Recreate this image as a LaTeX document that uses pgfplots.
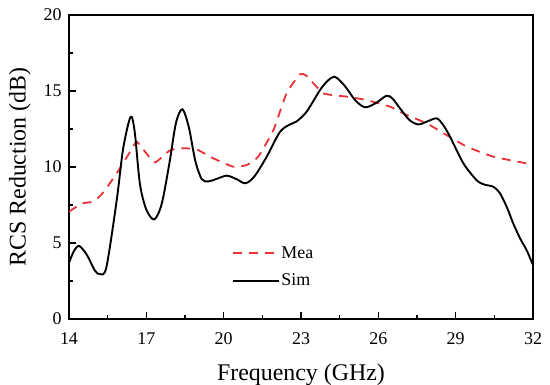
\documentclass[border=0pt]{standalone}
\usepackage{fontspec}
\setmainfont{Liberation Serif}
\usepackage{pgfplots}
\pgfplotsset{compat=1.18}
\definecolor{meared}{RGB}{232,50,56}
\begin{document}
\begin{tikzpicture}
\begin{axis}[
  scale only axis,
  width=464bp, height=304bp,
  at={(0,0)}, anchor=south west,
  xmin=14, xmax=32, ymin=0, ymax=20,
  xtick={14,17,20,23,26,29,32},
  ytick={0,5,10,15,20},
  minor x tick num=1, minor y tick num=1,
  xtick pos=bottom, ytick pos=left,
  tick align=inside,
  major tick length=7bp, minor tick length=4bp,
  every tick/.style={black, line width=1.2bp},
  axis line style={line width=1.8bp},
  /pgf/number format/assume math mode=true,
  tick label style={font=\rmfamily\fontsize{18}{20}\selectfont},
  xticklabel style={yshift=-10bp},
  yticklabel style={xshift=-4bp},
  label style={font=\rmfamily\fontsize{24}{26}\selectfont},
  xlabel={Frequency (GHz)},
  ylabel={RCS Reduction (dB)},
  xlabel style={yshift=-12bp},
  ylabel style={yshift=6bp},
  legend style={at={(0.35,0.245)}, anchor=north west, draw=none, fill=none,
    font=\rmfamily\fontsize{18}{20}\selectfont, inner sep=0pt, row sep=10bp,
    legend cell align=left},
  legend image code/.code={\draw[#1] (0bp,0bp) -- (46bp,0bp);},
]
\addplot[meared, line width=1.8bp, dash pattern=on 9bp off 7bp, smooth, tension=0.3] coordinates {
(14.00,7.06) (14.50,7.6) (14.94,7.72) (15.30,8.27) (15.85,9.58) (16.37,11.0)
(16.63,11.66) (17.00,10.9) (17.34,10.3) (17.92,11.1) (18.44,11.23) (18.95,11.16)
(19.60,10.57) (20.37,10.02) (20.89,10.13) (21.34,10.68) (21.93,12.43) (22.44,14.85)
(22.96,16.1) (23.22,15.99) (23.87,14.85) (24.77,14.63) (25.55,14.4) (26.45,13.97)
(27.10,13.42) (27.88,12.87) (28.65,12.1) (29.43,11.34) (30.46,10.68) (31.75,10.24)
(32.00,10.18)
};
\addlegendentry{Mea}
\addplot[black, line width=1.9bp, smooth, tension=0.5] coordinates {
(14.00,3.7) (14.20,4.5) (14.40,4.8) (14.70,4.2) (15.00,3.2) (15.20,2.95)
(15.45,3.4) (15.85,7.8) (16.10,11.2) (16.39,13.3) (16.55,12.3) (16.75,8.9)
(17.00,7.2) (17.31,6.55) (17.60,7.6) (17.90,10.3) (18.15,12.9) (18.40,13.8)
(18.65,12.6) (18.90,10.4) (19.15,9.2) (19.40,9.05) (19.70,9.2) (20.12,9.43)
(20.50,9.2) (20.85,8.93) (21.20,9.4) (21.67,10.68) (22.18,12.3) (22.57,12.8)
(22.83,13.0) (23.22,13.64) (23.74,15.07) (24.05,15.7) (24.29,15.94) (24.50,15.7)
(24.77,15.18) (25.10,14.4) (25.48,13.93) (25.90,14.2) (26.32,14.69) (26.55,14.5)
(26.84,13.86) (27.20,13.1) (27.55,12.8) (27.90,13.0) (28.26,13.2) (28.50,12.8)
(28.78,12.0) (29.30,10.24) (29.81,9.14) (30.10,8.85) (30.46,8.7) (30.72,8.27)
(31.00,7.3) (31.23,6.3) (31.50,5.3) (31.75,4.54) (32.00,3.55)
};
\addlegendentry{Sim}
\end{axis}
\pgfresetboundingbox
\path[use as bounding box] (-69bp,-66bp) rectangle (481bp,319bp);
\end{tikzpicture}
\end{document}
